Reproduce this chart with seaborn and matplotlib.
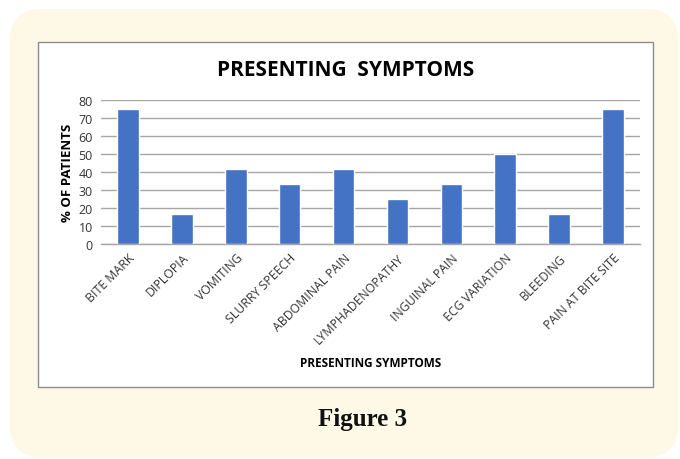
import matplotlib
matplotlib.use("Agg")
import matplotlib.pyplot as plt
from matplotlib.patches import FancyBboxPatch, Rectangle
import seaborn as sns
import pandas as pd

categories = ["BITE MARK", "DIPLOPIA", "VOMITING", "SLURRY SPEECH", "ABDOMINAL PAIN",
              "LYMPHADENOPATHY", "INGUINAL PAIN", "ECG VARIATION", "BLEEDING", "PAIN AT BITE SITE"]
values = [75, 16.67, 41.67, 33.33, 41.67, 25, 33.33, 50, 16.67, 75]
yticks = [0, 10, 20, 30, 40, 50, 60, 70, 80]

sns.set_theme(style="white")
plt.rcParams['font.family'] = ['Open Sans', 'DejaVu Sans']

W, H = 680, 460
fig = plt.figure(figsize=(6.8, 4.6), dpi=100)
fig.patch.set_facecolor("white")

# cream rounded background
fig.patches.append(FancyBboxPatch((10 / W, 2 / H), 668 / W, 448 / H,
                                  boxstyle="round,pad=0,rounding_size=0.045",
                                  transform=fig.transFigure, facecolor="#FEF9E7",
                                  edgecolor="none", zorder=0, mutation_aspect=W / H))
# inner white chart box
fig.patches.append(Rectangle((38 / W, 1 - 388 / H), 615 / W, 345 / H,
                             transform=fig.transFigure, facecolor="white",
                             edgecolor="#8C8C8C", linewidth=1.0, zorder=1))

ax = fig.add_axes([101 / W, 1 - 245 / H, 539 / W, 144 / H])
ax.set_zorder(2)
df = pd.DataFrame({"cat": categories, "val": values})
sns.barplot(data=df, x="cat", y="val", color="#4472C4", saturation=1, width=0.4, ax=ax, zorder=3)

ax.set_ylim(0, 80)
ax.set_yticks(yticks)
ax.set_xlim(-0.5, len(categories) - 0.5)
ax.grid(axis="y", color="#A6A6A6", linewidth=1.0, zorder=0)
ax.set_axisbelow(True)
for s in ["top", "right", "left"]:
    ax.spines[s].set_visible(False)
ax.spines["bottom"].set_color("#A6A6A6")
ax.spines["bottom"].set_linewidth(1.0)
ax.tick_params(axis="y", labelsize=9, colors="#333333", length=0, pad=6)
ax.tick_params(axis="x", labelsize=8.8, colors="#333333", length=0, pad=5)
ax.set_xticks(range(len(categories)))
ax.set_xticklabels(categories, rotation=45, ha="right", rotation_mode="anchor")
ax.set_xlabel("PRESENTING SYMPTOMS", fontsize=8.5, fontweight="bold", color="black")
ax.set_ylabel("% OF PATIENTS", fontsize=9.5, fontweight="bold", color="black", labelpad=3)
ax.xaxis.set_label_coords(0.5, -0.82)
ax.xaxis.label.set_va("center")

fig.text(346 / W, 1 - 70 / H, "PRESENTING  SYMPTOMS", ha="center", va="center",
         fontsize=15, fontweight="bold", color="black")
fig.text(362 / W, 1 - 420 / H, "Figure 3", ha="center", va="center",
         fontsize=18, fontweight="bold", color="#111111", family=["Liberation Serif", "DejaVu Serif"])

fig.savefig("out.png", dpi=100, facecolor="white")
